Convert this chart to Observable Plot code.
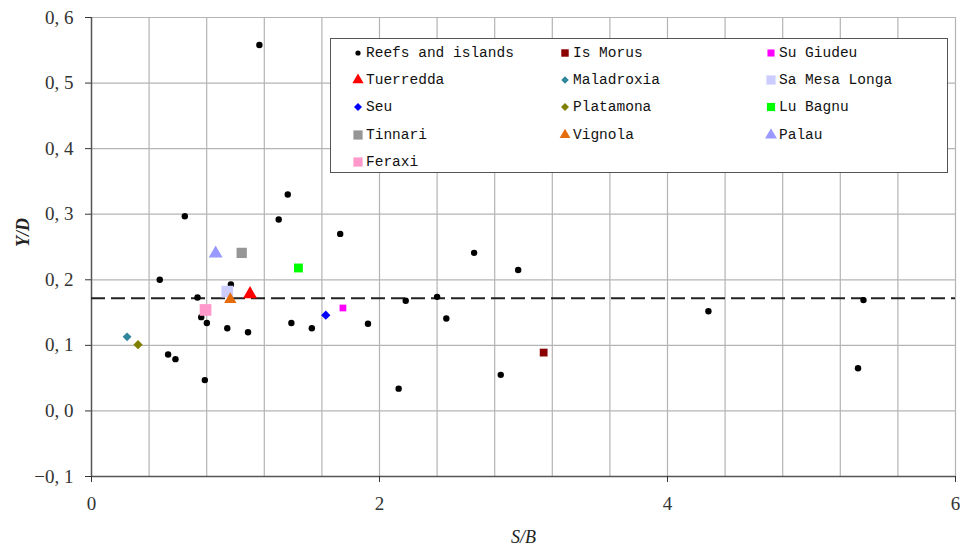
<!DOCTYPE html>
<html>
<head>
<meta charset="utf-8">
<script src="https://cdn.jsdelivr.net/npm/d3@7"></script>
<script src="https://cdn.jsdelivr.net/npm/@observablehq/plot@0.6"></script>
<style>
  body { margin: 0; background: #fff; }
  #wrap { position: relative; width: 960px; height: 554px; }
  #legend { position: absolute; left: 330px; top: 38px; width: 616px; height: 133px;
    border: 1.5px solid #555; background: #fff;
    font-family: "Liberation Mono", "DejaVu Sans Mono", monospace; font-size: 14.5px; color: #111; }
  .item { position: absolute; display: flex; align-items: center; white-space: nowrap; height: 20px; }
  .item svg { display: block; }
</style>
</head>
<body>
<div id="wrap"><div id="chart"></div><div id="legend"></div></div>
<script>
// ---- Data ----
// Reefs and islands (black dots)
const reefsX = [1.166, 0.648, 1.363, 1.300, 1.727, 0.474, 0.968, 0.736, 0.762, 0.801,
                0.943, 1.087, 1.388, 1.530, 1.920, 2.182, 0.532, 0.583, 0.787, 2.133,
                2.400, 2.464, 2.657, 2.963, 2.842, 4.284, 5.361, 5.323];
const reefsY = [0.558, 0.297, 0.330, 0.292, 0.270, 0.200, 0.193, 0.173, 0.143, 0.134,
                0.126, 0.120, 0.134, 0.126, 0.133, 0.168, 0.086, 0.079, 0.047, 0.034,
                0.174, 0.141, 0.241, 0.215, 0.055, 0.152, 0.169, 0.065];

// Individual beaches (legend order, row by row)
const siteNames = ["Is Morus", "Su Giudeu", "Tuerredda", "Maladroxia", "Sa Mesa Longa",
                   "Seu", "Platamona", "Lu Bagnu", "Tinnari", "Vignola", "Palau", "Feraxi"];
const siteX = [3.140, 1.746, 1.101, 0.247, 0.943, 1.627, 0.323, 1.437, 1.043, 0.964, 0.862, 0.792];
const siteY = [0.089, 0.157, 0.178, 0.113, 0.182, 0.146, 0.101, 0.218, 0.241, 0.170, 0.240, 0.154];

// Mean line
const meanY = 0.172;

// Axis ticks
const xTickValues = [0, 2, 4, 6];
const yTickValues = [-0.1, 0, 0.1, 0.2, 0.3, 0.4, 0.5, 0.6];
const xGridValues = [0.4, 0.8, 1.2, 1.6, 2.0, 2.4, 2.8, 3.2, 3.6, 4.0, 4.4, 4.8, 5.2, 5.6, 6.0];

const legendOrder = ["Reefs and islands", "Is Morus", "Su Giudeu", "Tuerredda", "Maladroxia",
                     "Sa Mesa Longa", "Seu", "Platamona", "Lu Bagnu", "Tinnari", "Vignola", "Palau", "Feraxi"];

// ---- Styles ----
const style = {
  "Reefs and islands": {symbol: "circle",   fill: "#000000", r: 3.2,  lr: 2.6},
  "Is Morus":          {symbol: "square",   fill: "#8b0000", r: 4.4,  lr: 4.2},
  "Su Giudeu":         {symbol: "square",   fill: "#ff00ff", r: 3.8,  lr: 4.0},
  "Tuerredda":         {symbol: "triangle", fill: "#ff0000", r: 5.2,  lr: 4.2},
  "Maladroxia":        {symbol: "diamond2", fill: "#31859c", r: 4.0,  lr: 3.4},
  "Sa Mesa Longa":     {symbol: "square",   fill: "#ccccff", r: 6.6,  lr: 5.2},
  "Seu":               {symbol: "diamond2", fill: "#0000ff", r: 4.2,  lr: 3.6},
  "Platamona":         {symbol: "diamond2", fill: "#808000", r: 4.2,  lr: 3.6},
  "Lu Bagnu":          {symbol: "square",   fill: "#00ff00", r: 5.0,  lr: 4.6},
  "Tinnari":           {symbol: "square",   fill: "#969696", r: 5.8,  lr: 5.2},
  "Vignola":           {symbol: "triangle", fill: "#e46c0a", r: 4.6,  lr: 4.0},
  "Palau":             {symbol: "triangle", fill: "#9999ff", r: 5.2,  lr: 4.4},
  "Feraxi":            {symbol: "square",   fill: "#ff99cc", r: 6.6,  lr: 5.2}
};

const reefs = reefsX.map((x, i) => ({x, y: reefsY[i]}));
const sites = siteNames.map((name, i) => ({name, x: siteX[i], y: siteY[i]}));

const fmt = d => (d < 0 ? "\u2212" : "") + Math.abs(d).toFixed(1).replace(".", ", ");

const serif = "'Liberation Serif', 'DejaVu Serif', serif";

const chart = Plot.plot({
  width: 960,
  height: 554,
  marginLeft: 91,
  marginRight: 5,
  marginTop: 17,
  marginBottom: 78,
  style: {fontFamily: serif, color: "#333", background: "#fff"},
  x: {domain: [0, 6]},
  y: {domain: [-0.1, 0.6]},
  marks: [
    Plot.gridX(xGridValues, {stroke: "#b4b4b4", strokeOpacity: 1, strokeWidth: 1.2}),
    Plot.gridY(yTickValues, {stroke: "#b4b4b4", strokeOpacity: 1, strokeWidth: 1.2}),
    Plot.ruleX([0], {y1: -0.1, y2: 0.6, stroke: "#555", strokeWidth: 1.5}),
    Plot.ruleY([-0.1], {x1: 0, x2: 6, stroke: "#555", strokeWidth: 1.5}),
    Plot.axisX({ticks: xTickValues, tickSize: 6, tickPadding: 14, fontSize: 19, label: null, tickFormat: d => String(d)}),
    Plot.axisY({ticks: yTickValues, tickSize: 6, tickPadding: 12, fontSize: 19, label: null, tickFormat: fmt}),
    Plot.text(["S/B"], {frameAnchor: "bottom", dy: 66, fontSize: 18, fontStyle: "italic", fontFamily: serif, fill: "#222"}),
    Plot.text(["Y/D"], {frameAnchor: "left", dx: -68, rotate: -90, fontSize: 18, fontStyle: "italic", fontWeight: "bold", fontFamily: serif, fill: "#222"}),
    Plot.ruleY([meanY], {x1: 0, x2: 6, stroke: "#222", strokeWidth: 2, strokeDasharray: "14,6"}),
    Plot.dot(reefs, {x: "x", y: "y", r: style["Reefs and islands"].r, fill: "#000", symbol: "circle"}),
    ...sites.map(s => Plot.dot([s], {x: "x", y: "y", symbol: style[s.name].symbol, r: style[s.name].r, fill: style[s.name].fill}))
  ]
});
document.getElementById("chart").appendChild(chart);

// ---- Legend (inside the plot area, as in the reference) ----
const legend = document.getElementById("legend");
const colLeft = [20, 227, 433];
const symbolMap = {circle: d3.symbolCircle, square: d3.symbolSquare, triangle: d3.symbolTriangle, diamond2: d3.symbolDiamond2};
legendOrder.forEach((name, i) => {
  const st = style[name];
  const col = i % 3, row = Math.floor(i / 3);
  const item = document.createElement("div");
  item.className = "item";
  item.style.left = colLeft[col] + "px";
  item.style.top = (4 + row * 27.2) + "px";
  const svg = d3.create("svg").attr("width", 14).attr("height", 14);
  svg.append("path")
    .attr("transform", "translate(7,7)")
    .attr("d", d3.symbol(symbolMap[st.symbol], Math.PI * st.lr * st.lr)())
    .attr("fill", st.fill);
  item.appendChild(svg.node());
  const span = document.createElement("span");
  span.textContent = name;
  span.style.marginLeft = "1px";
  item.appendChild(span);
  legend.appendChild(item);
});
</script>
</body>
</html>
